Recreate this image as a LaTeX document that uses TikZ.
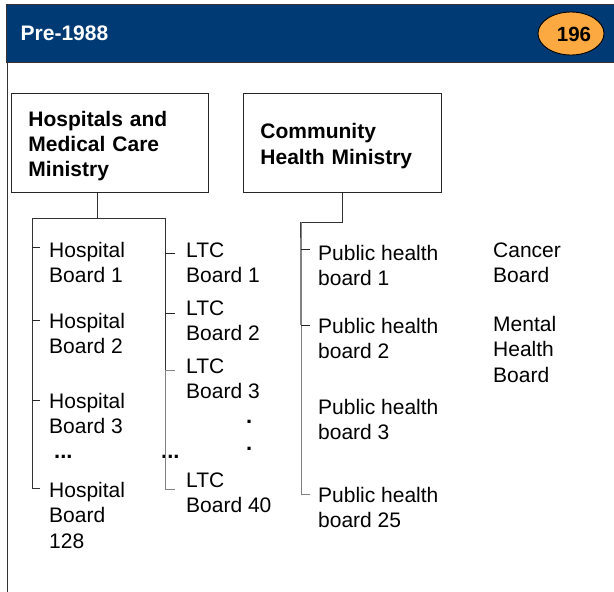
\documentclass[tikz,border=0pt]{standalone}
\usepackage{fontspec}
\setmainfont{Liberation Sans}
\usetikzlibrary{calc,shapes.geometric}
\definecolor{bandblue}{RGB}{0,58,116}
\definecolor{badgeorange}{RGB}{251,169,64}
\definecolor{stemgray}{RGB}{130,130,130}
% left-aligned stack of lines whose baseline is the first line
\newcommand{\stk}[1]{\begin{tabular}[t]{@{}l@{}}#1\end{tabular}}
\begin{document}
\begin{tikzpicture}[x=1pt,y=-1pt,
  lbl/.style={font=\fontsize{21}{25.8}\selectfont, inner sep=0pt, anchor=base west},
  ministry/.style={draw=black!85, line width=0.9pt, anchor=north west, inner xsep=17pt, inner ysep=0pt,
    font=\bfseries\fontsize{21}{25.2}\selectfont, align=left},
  tree/.style={draw=black!80, line width=1pt},
  treegray/.style={draw=stemgray, line width=1pt},
  tick/.style={draw=black!85, line width=1pt},
  dotlbl/.style={font=\bfseries\fontsize{22}{25}\selectfont, inner sep=0pt, anchor=base west}]
\useasboundingbox (0,0) rectangle (614,592);
\fill[white] (0,0) rectangle (614,592);

% title band, badge and page frame
\draw[fill=bandblue, draw=black!80, line width=0.8pt] (6,4) rectangle (616,62);
\node[font=\bfseries\fontsize{21}{24}\selectfont, text=white, inner sep=0pt, anchor=base west] (title) at (20.5,40.5) {Pre-1988};
\node[ellipse, draw=black, line width=0.9pt, fill=badgeorange, minimum width=66pt, minimum height=43pt, inner sep=0pt] (badge) at (571,33.5) {};
\node[font=\bfseries\fontsize{20.5}{22}\selectfont, inner sep=0pt, anchor=base] (num) at (574,41.5) {196};
\draw[black!80, line width=0.8pt] (7,62) -- (7,592);

% ministries
\node[ministry, text width=163pt, minimum width=197pt, minimum height=99pt] (hmc) at (11,93)
  {\raisebox{-3.5pt}[\height][\depth]{\stk{Hospitals and\\Medical Care\\Ministry}}};
\node[ministry, text width=164pt, minimum width=198pt, minimum height=99pt] (chm) at (243,93)
  {\raisebox{-3.5pt}[\height][\depth]{\stk{Community\\Health Ministry}}};

% hospital and LTC boards
\node[lbl] (h1) at (49,257) {\stk{Hospital\\Board 1}};
\node[lbl] (h2) at (49,328) {\stk{Hospital\\Board 2}};
\node[lbl] (h3) at (49,408) {\stk{Hospital\\Board 3}};
\node[lbl] (h128) at (49,497) {\stk{Hospital\\Board\\128}};
\node[dotlbl] (hdots) at (54,458) {...};

\node[lbl] (l1) at (186,257) {\stk{LTC\\Board 1}};
\node[lbl] (l2) at (186,315) {\stk{LTC\\Board 2}};
\node[lbl] (l3) at (186,373) {\stk{LTC\\Board 3}};
\node[lbl] (l40) at (186,487) {\stk{LTC\\Board 40}};
\node[dotlbl] (ldots) at (161,458) {...};
\node[dotlbl] (vd1) at (246,423) {.};
\node[dotlbl] (vd2) at (246,450) {.};

% public health and other boards
\node[lbl] (p1) at (318,260) {\stk{Public health\\board 1}};
\node[lbl] (p2) at (318,333) {\stk{Public health\\board 2}};
\node[lbl] (p3) at (318,414) {\stk{Public health\\board 3}};
\node[lbl] (p25) at (318,502) {\stk{Public health\\board 25}};
\node[lbl] (cancer) at (493,257) {\stk{Cancer\\Board}};
\node[lbl] (mental) at (493,331) {\stk{Mental\\Health\\Board}};

% hospital ministry tree
\coordinate (hsplit) at (97,218);
\coordinate (hbus) at (32,218);
\coordinate (lbus) at (165,218);
\draw[tree] (hmc.south -| hsplit) -- (hsplit);
\draw[tree] (hbus) -- (lbus);
\draw[tree] (hbus) -- ($(hbus |- h128.base)+(0,-9)$) -- ++(8,0);
\draw[tick] ($(hbus |- h1.base)+(0,-10)$) -- ++(8,0);
\draw[tick] ($(hbus |- h2.base)+(0,-8)$) -- ++(8,0);
\draw[tick] ($(hbus |- h3.base)+(0,-8)$) -- ++(8,0);

\draw[tree] (lbus) -- ($(lbus |- l3.base)+(0,-3)$);
\draw[treegray] ($(lbus |- l3.base)+(0,-3)$) -- ($(lbus |- l40.base)+(0,2)$) -- ++(10,0);
\draw[tick] ($(lbus |- l1.base)+(0,-4)$) -- ++(10,0);
\draw[tick] ($(lbus |- l2.base)+(0,-2)$) -- ++(10,0);
\draw[draw=stemgray, line width=1pt] ($(lbus |- l3.base)+(0,-3)$) -- ++(10,0);

% community ministry tree
\coordinate (csplit) at (342,222);
\coordinate (cbus) at (301,222);
\draw[tree] (chm.south -| csplit) -- (csplit) -- (cbus);
\draw[draw=stemgray, line width=2.4pt] (cbus) -- ($(cbus |- p2.base)+(0,-8)$);
\draw[draw=black!75, line width=1pt] ($(cbus)+(-0.7,0)$) -- ++(0,16);
\draw[treegray] ($(cbus |- p2.base)+(0,-8)$) -- ($(cbus |- p25.base)+(0,-8)$) -- ++(9,0);
\draw[tick] ($(cbus |- p1.base)+(0,-11)$) -- ++(9,0);
\draw[tick] ($(cbus |- p2.base)+(0,-8)$) -- ++(9,0);
\end{tikzpicture}
\end{document}
